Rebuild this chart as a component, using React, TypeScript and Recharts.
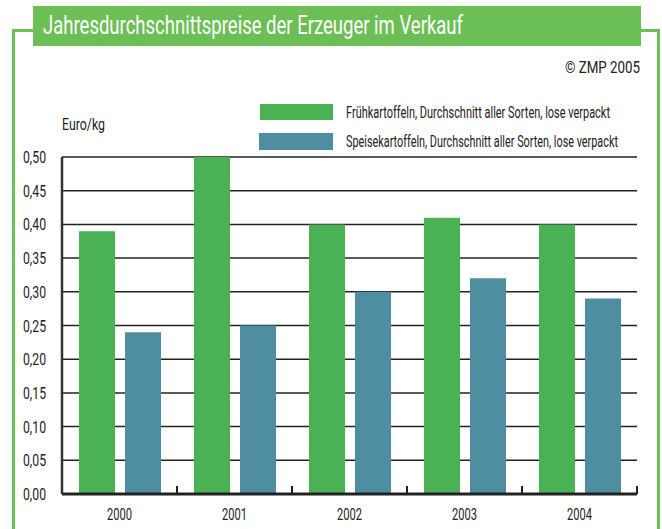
import { BarChart, Bar, XAxis, YAxis, CartesianGrid } from 'recharts'

const years = ['2000', '2001', '2002', '2003', '2004']
const fruehkartoffeln = [0.39, 0.5, 0.4, 0.41, 0.4]
const speisekartoffeln = [0.24, 0.25, 0.3, 0.32, 0.29]
const yTicks = [0, 0.05, 0.1, 0.15, 0.2, 0.25, 0.3, 0.35, 0.4, 0.45, 0.5]

const titleText = 'Jahresdurchschnittspreise der Erzeuger im Verkauf'
const sourceText = '© ZMP 2005'
const unitText = 'Euro/kg'
const seriesNames = {
    frueh: 'Frühkartoffeln, Durchschnitt aller Sorten, lose verpackt',
    speise: 'Speisekartoffeln, Durchschnitt aller Sorten, lose verpackt',
}

const GREEN = '#4bb155'
const BLUE = '#4f8da0'
const FRAME = '#6cbf55'
const INK = '#222'
const FONT = 'Roboto, "DejaVu Sans", sans-serif'

const data = years.map((y, i) => ({
    year: y,
    frueh: fruehkartoffeln[i],
    speise: speisekartoffeln[i],
}))

// the original uses a very condensed face, so text is squeezed to its width
const Squeezed = ({ x, y, w, size, anchor = 'start', fill = INK, children }: any) => (
    <text
        x={x}
        y={y}
        fontSize={size}
        fontFamily={FONT}
        fill={fill}
        textAnchor={anchor}
        textLength={w}
        lengthAdjust="spacingAndGlyphs"
    >
        {children}
    </text>
)

// tick marks sit on the category boundaries and point up into the plot
const XTick = ({ x, y, payload }: any) => {
    const half = payload && payload.offset ? payload.offset : 57.5
    return (
        <g>
            <line x1={x + half} x2={x + half} y1={y - 22} y2={y - 14} stroke={INK} strokeWidth={2} />
            <Squeezed x={x} y={y + 12} w={25} size={16} anchor="middle">{payload.value}</Squeezed>
        </g>
    )
}

const YTick = ({ x, y, payload }: any) => (
    <Squeezed x={x} y={y + 6} w={23} size={16} anchor="end">
        {payload.value.toFixed(2).replace('.', ',')}
    </Squeezed>
)

export default function App() {
    return (
        <div style={{ position: 'absolute', left: 0, top: 0, width: 662, height: 529, background: '#fff', overflow: 'hidden' }}>
            {/* green frame and title box */}
            <div style={{ position: 'absolute', left: 12, top: 29, width: 642, height: 520, borderLeft: `3px solid ${FRAME}`, borderRight: `3px solid ${FRAME}`, borderTop: `3px solid ${FRAME}` }} />
            <div style={{ position: 'absolute', left: 33, top: 6, width: 608, height: 40, background: FRAME }} />

            <div style={{ position: 'absolute', left: 0, top: 0 }}>
                <BarChart
                    width={662}
                    height={529}
                    data={data}
                    margin={{ top: 157, right: 25, bottom: 5, left: 0 }}
                    barCategoryGap={17}
                    barGap={10}
                >
                    <CartesianGrid vertical={false} stroke={INK} strokeWidth={1.5} />
                    <XAxis
                        dataKey="year"
                        height={30}
                        axisLine={{ stroke: INK, strokeWidth: 3 }}
                        tickLine={false}
                        tick={<XTick />}
                        interval={0}
                        tickMargin={8}
                    />
                    <YAxis
                        width={62}
                        domain={[0, 0.5]}
                        ticks={yTicks}
                        interval={0}
                        axisLine={{ stroke: '#333', strokeWidth: 2.5 }}
                        tickLine={false}
                        tickMargin={10}
                        tick={<YTick />}
                    />
                    <Bar dataKey="frueh" name={seriesNames.frueh} fill={GREEN} isAnimationActive={false} />
                    <Bar dataKey="speise" name={seriesNames.speise} fill={BLUE} isAnimationActive={false} />
                </BarChart>
            </div>

            {/* texts and legend */}
            <svg width={662} height={529} style={{ position: 'absolute', left: 0, top: 0, pointerEvents: 'none' }}>
                <Squeezed x={43} y={34} w={420} size={25} fill="#fff">{titleText}</Squeezed>
                <Squeezed x={640} y={73} w={75} size={16} anchor="end">{sourceText}</Squeezed>
                <Squeezed x={62} y={130} w={43} size={17}>{unitText}</Squeezed>

                <rect x={260} y={104} width={73} height={16} fill={GREEN} />
                <Squeezed x={346} y={118} w={264} size={17}>{seriesNames.frueh}</Squeezed>
                <rect x={259} y={133} width={74} height={17} fill={BLUE} />
                <Squeezed x={346} y={147} w={272} size={17}>{seriesNames.speise}</Squeezed>
            </svg>
        </div>
    )
}
